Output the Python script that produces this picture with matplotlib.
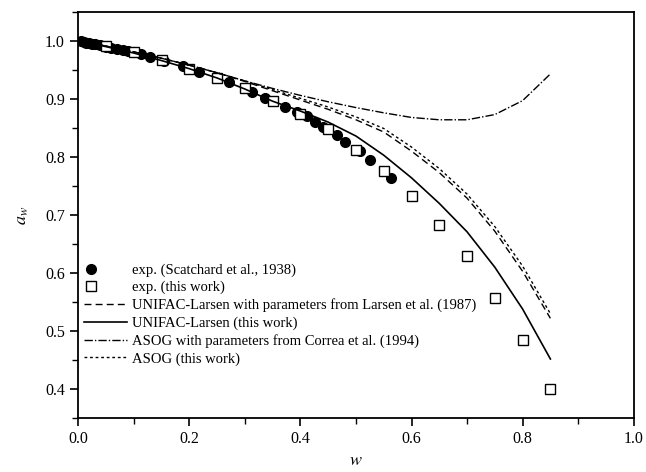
import numpy as np
import matplotlib
matplotlib.use('Agg')
import matplotlib.pyplot as plt
from matplotlib.ticker import MultipleLocator, FormatStrFormatter
from matplotlib.legend_handler import HandlerLine2D

plt.rcParams['font.family'] = ['Liberation Serif', 'DejaVu Serif']
plt.rcParams['mathtext.fontset'] = 'stix'

# exp. (Scatchard et al., 1938)
w_scat = [0.005, 0.01, 0.015, 0.02, 0.025, 0.03, 0.04, 0.05, 0.06, 0.07, 0.08, 0.09, 0.10,
          0.114, 0.129, 0.155, 0.188, 0.218, 0.271, 0.313, 0.337, 0.373, 0.393, 0.411,
          0.426, 0.441, 0.465, 0.48, 0.507, 0.526, 0.563]
a_scat = [0.999, 0.998, 0.997, 0.996, 0.995, 0.994, 0.992, 0.990, 0.988, 0.986, 0.984, 0.982, 0.980,
          0.977, 0.972, 0.965, 0.956, 0.946, 0.929, 0.912, 0.901, 0.886, 0.877, 0.870,
          0.860, 0.851, 0.837, 0.826, 0.810, 0.795, 0.763]

# exp. (this work)
w_exp = [0.05, 0.10, 0.15, 0.20, 0.25, 0.30, 0.35, 0.40, 0.45, 0.50, 0.55, 0.60, 0.65, 0.70, 0.75, 0.80, 0.85]
a_exp = [0.991, 0.981, 0.967, 0.952, 0.936, 0.919, 0.897, 0.874, 0.848, 0.812, 0.776, 0.733, 0.683,
         0.629, 0.557, 0.484, 0.400]

# model curves
w_mod = [0.0, 0.05, 0.10, 0.15, 0.20, 0.25, 0.30, 0.35, 0.40, 0.45, 0.50, 0.55, 0.60, 0.65, 0.70, 0.75, 0.80, 0.85]
a_unif_lit = [1.0, 0.991, 0.981, 0.970, 0.958, 0.945, 0.930, 0.914, 0.898, 0.882, 0.864, 0.843,
              0.810, 0.773, 0.729, 0.672, 0.603, 0.522]
a_unif_tw = [1.0, 0.990, 0.979, 0.966, 0.952, 0.936, 0.917, 0.896, 0.879, 0.860, 0.836, 0.803,
             0.764, 0.720, 0.671, 0.610, 0.538, 0.452]
a_asog_lit = [1.0, 0.991, 0.981, 0.970, 0.958, 0.945, 0.931, 0.918, 0.906, 0.895, 0.885, 0.876,
              0.868, 0.864, 0.864, 0.873, 0.897, 0.943]
a_asog_tw = [1.0, 0.991, 0.981, 0.970, 0.958, 0.945, 0.931, 0.916, 0.901, 0.886, 0.869, 0.849,
             0.817, 0.780, 0.736, 0.680, 0.612, 0.530]


class LeftMarker(HandlerLine2D):
    # puts the marker near the left end of the legend handle
    def get_xdata(self, legend, xdescent, ydescent, width, height, fontsize):
        return [-xdescent + 0.16 * width], [-xdescent + 0.16 * width]


fig = plt.figure(figsize=(6.46, 4.72), dpi=100)
ax = fig.add_axes([0.121, 0.114, 0.86, 0.861])

ax.plot(w_scat, a_scat, 'o', color='black', ms=7, label='exp. (Scatchard et al., 1938)')
ax.plot(w_exp, a_exp, 's', mfc='white', mec='black', mew=1.0, ms=7, label='exp. (this work)')
ax.plot(w_mod, a_unif_lit, color='black', lw=1.0, ls=(0, (5, 3)),
        label='UNIFAC-Larsen with parameters from Larsen et al. (1987)')
ax.plot(w_mod, a_unif_tw, color='black', lw=1.2, ls='-', label='UNIFAC-Larsen (this work)')
ax.plot(w_mod, a_asog_lit, color='black', lw=1.0, ls=(0, (6, 1.5, 1, 1.5)),
        label='ASOG with parameters from Correa et al. (1994)')
ax.plot(w_mod, a_asog_tw, color='black', lw=1.0, ls=(0, (2, 2)), label='ASOG (this work)')

ax.set_xlim(0.0, 1.0)
ax.set_ylim(0.35, 1.05)
ax.xaxis.set_major_locator(MultipleLocator(0.2))
ax.xaxis.set_minor_locator(MultipleLocator(0.1))
ax.yaxis.set_major_locator(MultipleLocator(0.1))
ax.yaxis.set_minor_locator(MultipleLocator(0.05))
ax.xaxis.set_major_formatter(FormatStrFormatter('%.1f'))
ax.yaxis.set_major_formatter(FormatStrFormatter('%.1f'))
ax.tick_params(which='major', direction='out', length=6, width=1.2, labelsize=11.5)
ax.tick_params(which='minor', direction='out', length=4, width=1.0)
for s in ax.spines.values():
    s.set_linewidth(1.3)

ax.set_xlabel('$w$', fontsize=13, labelpad=3)
ax.set_ylabel('$a_w$', fontsize=13, labelpad=10)

leg = ax.legend(loc='lower left', bbox_to_anchor=(-0.014, 0.097), frameon=False, fontsize=10.5,
                handlelength=3.0, handletextpad=0.3, labelspacing=0.28, numpoints=1,
                handler_map={ax.lines[0]: LeftMarker(numpoints=1), ax.lines[1]: LeftMarker(numpoints=1)})

fig.savefig('out.png', dpi=100)
